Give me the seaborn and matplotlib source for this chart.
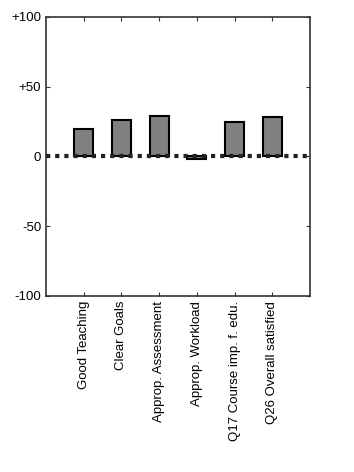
import matplotlib
matplotlib.use('Agg')
import matplotlib.pyplot as plt
import seaborn as sns

sns.set_style('white')
plt.rcParams['font.family'] = ['Liberation Sans', 'DejaVu Sans']

# data
labels = ['Good Teaching', 'Clear Goals', 'Approp. Assessment', 'Approp. Workload',
          'Q17 Course imp. f. edu.', 'Q26 Overall satisfied']
values = [20, 26.5, 29, -2, 25, 28]
yticks = [-100, -50, 0, 50, 100]
yticklabels = ['-100', '-50', '0', '+50', '+100']

fig = plt.figure(figsize=(3.54, 4.72), dpi=100)
ax = fig.add_axes([0.13, 0.373, 0.746, 0.591])

sns.barplot(x=labels, y=values, color='#808080', saturation=1, width=0.5,
            edgecolor='black', linewidth=1.5, ax=ax)

ax.axhline(0, color='#222222', linestyle=(0, (1, 1.2)), linewidth=3, clip_on=False, zorder=5)

ax.set_xlim(-1, 6)
ax.set_ylim(-100, 100)
ax.set_yticks(yticks)
ax.set_yticklabels(yticklabels)
ax.tick_params(axis='x', labelrotation=90)
ax.tick_params(direction='in', length=3, top=True, right=True, bottom=True, left=True,
               labelsize=9.5, colors='#333333', labelcolor='black')
for s in ax.spines.values():
    s.set_color('#333333')
    s.set_linewidth(1.2)

fig.savefig('out.png', dpi=100)
